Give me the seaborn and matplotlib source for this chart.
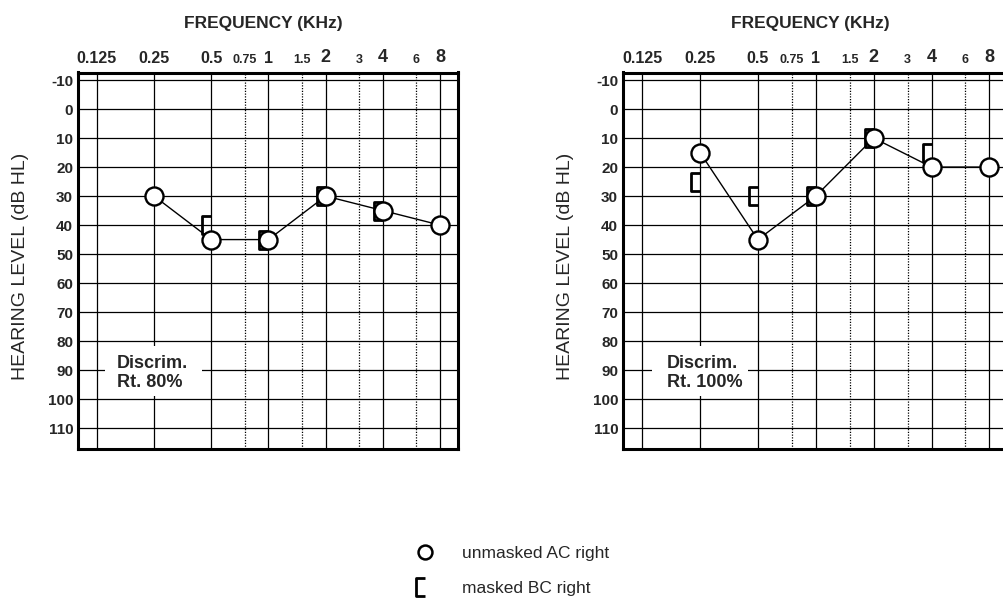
import numpy as np
import pandas as pd
import matplotlib
matplotlib.use("Agg")
import matplotlib.pyplot as plt
from matplotlib.path import Path
from matplotlib.lines import Line2D
from matplotlib.patches import Rectangle
import seaborn as sns

# ---------------- data ----------------
freq_ticks = [0.125, 0.25, 0.5, 0.75, 1, 1.5, 2, 3, 4, 6, 8]
freq_tick_labels = ["0.125", "0.25", "0.5", "0.75", "1", "1.5", "2", "3", "4", "6", "8"]
major_freqs = [0.125, 0.25, 0.5, 1, 2, 4, 8]
half_freqs = [0.75, 1.5, 3, 6]
db_ticks = [-10, 0, 10, 20, 30, 40, 50, 60, 70, 80, 90, 100, 110]

ac_freq = [0.25, 0.5, 1, 2, 4, 8]
left_ac = [30, 45, 45, 30, 35, 40]
right_ac = [15, 45, 30, 10, 20, 20]

left_bc_freq = [0.5, 1, 2, 4]
left_bc = [40, 45, 30, 35]
right_bc_freq = [0.25, 0.5, 1, 2, 4]
right_bc = [25, 30, 30, 10, 15]

discrim_labels = ["Discrim.\nRt. 80%", "Discrim.\nRt. 100%"]
legend_labels = ["unmasked AC right", "masked BC right"]

# ---------------- style ----------------
sns.set_style("white")
plt.rcParams["font.family"] = ["Liberation Sans", "DejaVu Sans"]

bracket = Path([(0, 1), (-1, 1), (-1, -1), (0, -1)],
               [Path.MOVETO, Path.LINETO, Path.LINETO, Path.LINETO])

W, H = 1004, 602
fig = plt.figure(figsize=(W / 100, H / 100), dpi=100)

def frac(x0, y0, w, h):
    return [x0 / W, 1 - (y0 + h) / H, w / W, h / H]

axes = [fig.add_axes(frac(78, 72.5, 380, 376.5)),
        fig.add_axes(frac(623, 72.5, 385, 376.5))]
xlims = [(0.0994, 9.95), (0.0994, 9.99)]
discrim_text_x = [0.103, 0.114]
discrim_box_x = [(0.071, 0.326), (0.075, 0.325)]

datasets = [(left_ac, left_bc_freq, left_bc, discrim_labels[0]),
            (right_ac, right_bc_freq, right_bc, discrim_labels[1])]

for i, (ax, (ac, bcf, bc, dlabel)) in enumerate(zip(axes, datasets)):
    ax.set_xscale("log", base=2)
    ax.set_xlim(*xlims[i])
    ax.set_ylim(117.2, -12.6)

    # grid
    for f in major_freqs:
        ax.axvline(f, color="black", lw=0.9, zorder=1)
    for f in half_freqs:
        ax.axvline(f, color="black", lw=0.9, ls=(0, (1, 1.2)), zorder=1)
    for d in db_ticks:
        ax.axhline(d, color="black", lw=0.9, zorder=1)

    # discrimination box
    bx0, bx1 = discrim_box_x[i]
    ax.add_patch(Rectangle((bx0, 0.140), bx1 - bx0, 0.134,
                           transform=ax.transAxes, facecolor="white",
                           edgecolor="none", zorder=2))
    ax.text(discrim_text_x[i], 0.202, dlabel, transform=ax.transAxes,
            fontsize=13, ha="left", va="center",
            linespacing=1.12, zorder=3, fontweight="bold")

    # bone conduction (masked) brackets
    df_bc = pd.DataFrame({"freq": bcf, "db": bc})
    sns.lineplot(data=df_bc, x="freq", y="db", ax=ax, linestyle="none",
                 marker=bracket, markersize=13.5, markerfacecolor="none",
                 markeredgecolor="black", markeredgewidth=2.0,
                 color="black", sort=False, zorder=4)

    # air conduction (unmasked)
    df_ac = pd.DataFrame({"freq": ac_freq, "db": ac})
    sns.lineplot(data=df_ac, x="freq", y="db", ax=ax, color="black", lw=1.0,
                 marker="o", markersize=13, markerfacecolor="white",
                 markeredgecolor="black", markeredgewidth=1.7,
                 sort=False, zorder=5)

    ax.set_xlabel("")
    ax.set_ylabel("")
    ax.xaxis.tick_top()
    ax.set_xticks(freq_ticks)
    ax.set_xticklabels(freq_tick_labels)
    ax.xaxis.set_minor_locator(matplotlib.ticker.NullLocator())
    for lab, f in zip(ax.get_xticklabels(), freq_ticks):
        lab.set_fontweight("bold")
        if f in half_freqs:
            lab.set_fontsize(9)
        elif f in (2, 4, 8):
            lab.set_fontsize(13)
        else:
            lab.set_fontsize(11.5)
    ax.set_yticks(db_ticks)
    ax.set_yticklabels([str(d) for d in db_ticks], fontsize=11, fontweight="bold")
    ax.tick_params(axis="both", length=0, pad=3.5)
    ax.tick_params(axis="x", pad=5)

    for sp in ax.spines.values():
        sp.set_visible(True)
        sp.set_color("black")
        sp.set_linewidth(2.2)

    ax.text(0.487, 1.131, "FREQUENCY (KHz)", transform=ax.transAxes,
            ha="center", va="center", fontsize=12.5, fontweight="bold")
    ax.text(-0.15, 0.486, "HEARING LEVEL (dB HL)", transform=ax.transAxes,
            ha="center", va="center", rotation=90, fontsize=14)

# legend
handles = [Line2D([], [], linestyle="none", marker="o", markersize=10,
                  markerfacecolor="white", markeredgecolor="black",
                  markeredgewidth=1.8),
           Line2D([], [], linestyle="none", marker=bracket, markersize=13,
                  markerfacecolor="none", markeredgecolor="black",
                  markeredgewidth=2.0)]
fs = 12.5
fig.legend(handles, legend_labels, loc="upper left",
           bbox_to_anchor=(412 / W, 1 - 546 / H), frameon=False,
           fontsize=fs, borderpad=0, handlelength=1.5, handletextpad=1.38,
           labelspacing=1.15, borderaxespad=0)

fig.savefig("out.png", dpi=100)
